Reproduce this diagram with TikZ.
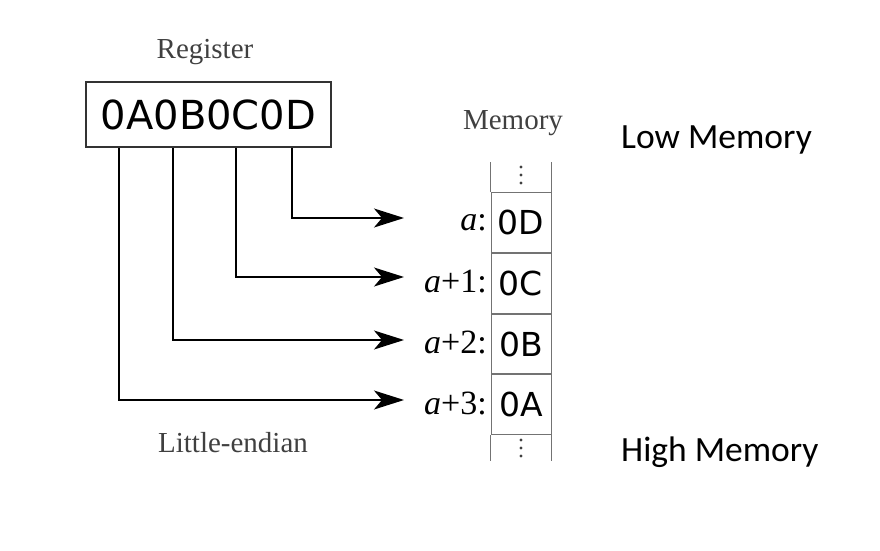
\documentclass[tikz,border=0pt]{standalone}
\usepackage{fontspec}
\setmainfont{Liberation Serif}
\newfontfamily\dvs{DejaVu Sans}
\newfontfamily\carl{Carlito}
\usetikzlibrary{arrows.meta}
\begin{document}
\begin{tikzpicture}[x=1pt,y=-1pt,
  lbl/.style={font=\fontsize{29}{32}\selectfont, text=black!75, inner sep=0},
  hexbig/.style={font=\dvs\fontsize{40}{44}\selectfont, inner sep=0},
  cell/.style={draw=black!55, line width=1pt, minimum width=60, minimum height=59.75, inner sep=0, font=\dvs\fontsize{33}{36}\selectfont},
  addr/.style={font=\fontsize{34}{37}\selectfont, anchor=east, inner sep=0},
  side/.style={font=\carl\fontsize{35.5}{40}\selectfont, anchor=west, inner sep=0},
  arr/.style={line width=1.4pt, draw=black, -{Stealth[length=30pt,width=19pt,inset=8pt]}},
  col/.style={draw=black!55, line width=1pt},
  dot/.style={fill=black!75, draw=none}]
\useasboundingbox (0,0) rectangle (880,551);
% register
\node[lbl] (reglbl) at (205,52) {Register};
\node[draw=black!80, line width=1.5pt, minimum width=245, minimum height=65, inner sep=0] (reg) at (208.5,114.5) {};
\node[hexbig] (regtxt) at (reg.center) {0A0B0C0D};
\node[lbl] (memlbl) at (513,123) {Memory};
\node[lbl] (little) at (233,443) {Little-endian};
% memory cells
\node[cell] (m1) at (521,222.5) {0D};
\node[cell, anchor=north] (m2) at (m1.south) {0C};
\node[cell, anchor=north] (m3) at (m2.south) {0B};
\node[cell, anchor=north] (m4) at (m3.south) {0A};
\coordinate (top) at (521,162);
\coordinate (bot) at (521,461);
\draw[col] (m1.north west) -- (m1.north west |- top);
\draw[col] (m1.north east) -- (m1.north east |- top);
\draw[col] (m4.south west) -- (m4.south west |- bot);
\draw[col] (m4.south east) -- (m4.south east |- bot);
\foreach \y in {167,175,183,440,448,456} \fill[dot] (521,\y) circle (1.7);
% addresses
\node[addr] (a1) at (487,223) {\textit{a}:};
\node[addr] (a2) at (487,282) {\textit{a}+1:};
\node[addr] (a3) at (487,342) {\textit{a}+2:};
\node[addr] (a4) at (487,403) {\textit{a}+3:};
% connectors
\coordinate (s1) at (292,147.75);
\coordinate (s2) at (236,147.75);
\coordinate (s3) at (173,147.75);
\coordinate (s4) at (119,147.75);
\coordinate (t1) at (404,218);
\coordinate (t2) at (404,277);
\coordinate (t3) at (404,340);
\coordinate (t4) at (404,400);
\draw[arr] (s1) |- (t1);
\draw[arr] (s2) |- (t2);
\draw[arr] (s3) |- (t3);
\draw[arr] (s4) |- (t4);
% side labels
\node[side] (low) at (621,140) {Low Memory};
\node[side] (high) at (621,452) {High Memory};
\end{tikzpicture}
\end{document}
